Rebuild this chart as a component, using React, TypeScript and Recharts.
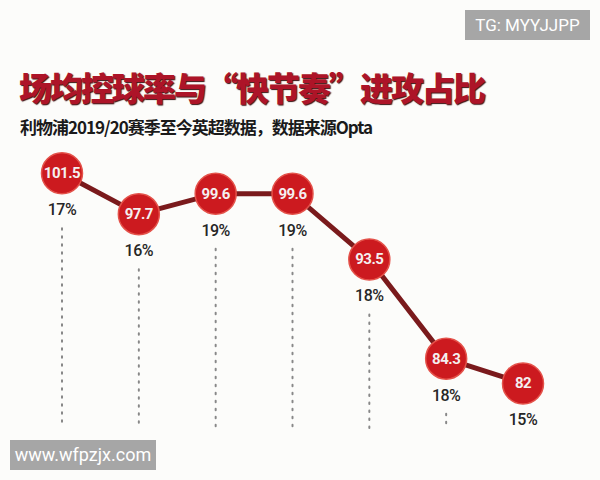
import { LineChart, Line, XAxis, YAxis } from 'recharts';

const seasons = ['1', '2', '3', '4', '5', '6', '7'];
const possession = [101.5, 97.7, 99.6, 99.6, 93.5, 84.3, 82];
const fastShare = [17, 16, 19, 19, 18, 18, 15];

const data = seasons.map((s, i) => ({
    idx: i,
    name: s,
    value: possession[i],
    pct: fastShare[i],
}));

const NUM_FONT = '"Roboto", sans-serif';
const BOTTOM_Y = 428;

function Bubble(props: any) {
    const { cx, cy, index, payload } = props;
    const last = index === data.length - 1;
    return (
        <g key={`dot-${index}`}>
            {!last && (
                <line
                    x1={cx}
                    x2={cx}
                    y1={cy + 55}
                    y2={BOTTOM_Y}
                    stroke="#888"
                    strokeWidth={2}
                    strokeDasharray="1.5 6.5"
                    strokeLinecap="round"
                />
            )}
            <circle cx={cx} cy={cy} r={20.5} fill="#cc1a1f" stroke="#e4524a" strokeWidth={1.5} />
            <text
                x={cx}
                y={cy + 5}
                textAnchor="middle"
                fill="#f4f0f0"
                fontFamily={NUM_FONT}
                fontWeight={700}
                fontSize={15}
                letterSpacing={-0.5}
            >
                {payload.value}
            </text>
            <text
                x={cx}
                y={cy + 42}
                textAnchor="middle"
                fill="#262626"
                fontFamily={NUM_FONT}
                fontWeight={500}
                fontSize={16}
                letterSpacing={-0.5}
            >
                {payload.pct}%
            </text>
        </g>
    );
}

export default function App() {
    return (
        <div style={{ position: 'absolute', left: 0, top: 0, width: 600, height: 480, background: '#fcfcfa', overflow: 'hidden' }}>
            <div style={{ position: 'absolute', left: 465, top: 10, width: 125, height: 30, background: '#a6a6a6', color: '#fff', fontFamily: 'Roboto, sans-serif', fontSize: 17, lineHeight: '30px', textAlign: 'center' }}>
                TG: MYYJJPP
            </div>
            <div style={{ position: 'absolute', left: 19, top: 64, fontFamily: '"Noto Sans CJK SC", sans-serif', fontWeight: 900, fontSize: 33, letterSpacing: -2, color: '#ad1428', textShadow: '1px 1px 1px #3a1010', lineHeight: '46px', whiteSpace: 'nowrap' }}>
                场均控球率与“快节奏”进攻占比
            </div>
            <div style={{ position: 'absolute', left: 20, top: 114, fontFamily: '"Noto Sans CJK SC", sans-serif', fontWeight: 700, fontSize: 17, letterSpacing: -1, color: '#1a1a1a', lineHeight: '26px', whiteSpace: 'nowrap' }}>
                利物浦2019/20赛季至今英超数据，数据来源Opta
            </div>
            <div style={{ position: 'absolute', left: 0, top: 0 }}>
                <LineChart width={600} height={480} data={data} margin={{ top: 157, right: 77, bottom: 75, left: 62 }}>
                    <XAxis type="number" dataKey="idx" domain={[0, 6]} hide />
                    <YAxis type="number" domain={[80, 103]} hide />
                    <Line
                        dataKey="value"
                        stroke="#7a1a1c"
                        strokeWidth={5}
                        dot={<Bubble />}
                        activeDot={false}
                        isAnimationActive={false}
                    />
                </LineChart>
            </div>
            <div style={{ position: 'absolute', left: 10, top: 440, width: 146, height: 30, background: '#a6a6a6', color: '#fff', fontFamily: 'Roboto, sans-serif', fontSize: 18, lineHeight: '30px', textAlign: 'center' }}>
                www.wfpzjx.com
            </div>
        </div>
    );
}
